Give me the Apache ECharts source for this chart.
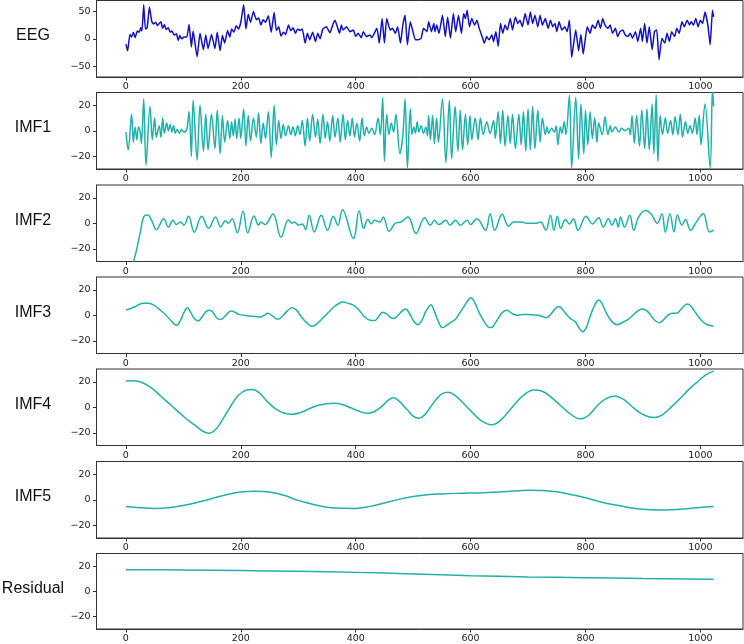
<!DOCTYPE html>
<html>
<head>
<meta charset="utf-8">
<script src="https://cdn.jsdelivr.net/npm/echarts@6/dist/echarts.min.js"></script>
<style>html,body{margin:0;padding:0;background:#fff}#c{width:744px;height:644px}</style>
</head>
<body>
<div id="c"></div>
<script>
// ---------- data ----------
const panelNames = ['EEG', 'IMF1', 'IMF2', 'IMF3', 'IMF4', 'IMF5', 'Residual'];
const xTicks = [0, 200, 400, 600, 800, 1000];
const eegTicks = [-50, 0, 50];
const imfTicks = [-20, 0, 20];

const eeg = [[0,-10],[3,-22],[7,8],[10,3],[13,12],[16,2],[20,14],[23,12],[26,20],[28,14],[31,62],[34,18],[37,20],[41,58],[45,32],[48,27],[52,30],[55,24],[58,28],[61,31],[64,19],[67,26],[70,17],[74,20],[77,12],[80,14],[84,7],[88,9],[91,-3],[94,6],[97,0],[101,3],[106,3],[110,26],[114,-15],[117,14],[124,-33],[129,10],[135,-20],[139,7],[143,-18],[149,8],[155,-18],[159,12],[164,-22],[168,6],[172,-8],[177,15],[181,3],[184,18],[188,12],[192,24],[196,18],[200,30],[205,62],[209,18],[213,45],[217,30],[222,50],[227,35],[231,38],[235,25],[239,35],[243,30],[248,42],[253,12],[258,48],[262,15],[266,22],[270,5],[274,12],[278,8],[283,25],[287,15],[291,20],[295,10],[299,18],[303,15],[307,18],[312,-8],[316,10],[320,-2],[325,12],[330,-5],[334,10],[338,0],[343,18],[349,22],[355,11],[361,28],[364,34],[368,22],[372,10],[375,25],[378,16],[384,22],[390,13],[396,16],[400,4],[404,10],[410,2],[413,13],[419,4],[425,7],[428,2],[437,19],[441,-8],[446,37],[450,-8],[454,37],[460,16],[464,19],[469,10],[473,22],[478,-8],[482,25],[486,43],[490,-11],[495,31],[499,16],[504,-2],[509,-2],[514,1],[518,19],[524,13],[527,31],[532,13],[536,28],[538,13],[541,25],[545,10],[551,43],[556,4],[560,40],[565,1],[570,46],[574,13],[579,43],[584,10],[588,46],[591,37],[594,52],[598,22],[602,37],[607,25],[611,34],[615,19],[620,4],[624,-8],[628,4],[632,-2],[637,7],[640,-5],[644,13],[648,-14],[652,28],[656,10],[660,25],[664,16],[669,37],[673,16],[678,40],[682,28],[686,34],[690,22],[695,46],[700,25],[704,49],[708,28],[712,43],[717,22],[721,43],[725,25],[730,37],[735,19],[739,34],[743,22],[747,28],[750,13],[754,31],[759,16],[764,22],[768,13],[772,34],[776,-34],[783,16],[788,-22],[792,8],[796,-28],[803,22],[808,10],[812,25],[817,19],[822,34],[826,19],[830,37],[834,25],[839,19],[843,25],[847,10],[852,19],[856,4],[860,13],[865,16],[869,7],[874,4],[878,10],[882,1],[887,13],[891,-5],[896,19],[899,-5],[903,28],[907,-8],[911,22],[916,-20],[920,13],[924,16],[928,-38],[933,1],[938,-8],[942,10],[946,-5],[950,13],[955,4],[959,19],[963,10],[968,31],[972,22],[977,34],[981,25],[984,31],[988,25],[992,37],[996,22],[1000,34],[1004,28],[1008,49],[1013,25],[1017,-11],[1021,52],[1023,40]];

const imf1 = [[0,-1],[4,-15],[10,13],[13,-9],[16,3],[19,-7],[22,3],[25,-1],[27,-10],[31,25],[35,-27],[42,19],[46,-7],[50,10],[53,-5],[58,4],[61,-5],[64,10],[67,-2],[71,6],[74,0],[77,5],[80,-1],[83,4],[86,-2],[89,1],[93,-2],[97,1],[101,-1],[106,1],[110,15],[114,-20],[117,24],[124,-23],[129,20],[135,-16],[139,13],[143,-15],[149,13],[155,-14],[159,16],[164,-18],[168,12],[172,-9],[177,8],[181,-6],[184,7],[187,-4],[190,9],[193,-6],[197,10],[200,-6],[205,17],[209,-12],[213,12],[217,-8],[222,10],[227,-5],[231,14],[235,-10],[239,6],[243,-6],[248,15],[253,-21],[258,20],[262,-11],[266,8],[270,-6],[274,5],[278,-4],[283,4],[287,-3],[291,3],[295,-4],[299,4],[303,-3],[307,8],[312,-12],[316,10],[320,-8],[325,13],[330,-5],[334,9],[338,-10],[343,13],[347,-6],[351,7],[355,-8],[360,12],[364,-5],[369,10],[373,-9],[378,13],[382,-7],[386,8],[390,-4],[394,10],[398,-5],[402,6],[407,-8],[411,10],[415,-4],[419,3],[423,-2],[428,2],[433,-3],[439,10],[443,-3],[447,26],[450,-24],[454,13],[458,-3],[462,6],[466,-1],[470,13],[477,-18],[482,-4],[486,25],[490,-29],[495,17],[498,-3],[501,3],[504,-2],[507,7],[510,-1],[514,4],[518,-2],[522,3],[525,-4],[527,12],[530,-7],[534,12],[537,-10],[541,10],[544,-9],[551,25],[557,-25],[563,24],[567,-22],[573,19],[578,-16],[582,16],[586,-15],[591,13],[595,-11],[599,12],[602,-7],[608,10],[613,-7],[617,10],[622,-3],[628,7],[634,-2],[640,8],[643,-6],[648,15],[652,-10],[656,16],[660,-12],[665,12],[669,-10],[673,13],[678,-14],[684,13],[688,-11],[692,15],[696,-16],[700,17],[704,-15],[708,19],[712,-14],[717,16],[721,-9],[725,10],[730,-3],[733,3],[736,-2],[741,2],[746,-1],[749,4],[752,-11],[756,3],[759,-2],[763,7],[766,-3],[772,28],[776,-29],[783,26],[788,-22],[792,21],[797,-18],[800,16],[804,-11],[808,15],[812,-6],[816,10],[820,-9],[823,6],[829,-3],[834,11],[839,-3],[843,4],[846,-1],[852,3],[858,-1],[863,2],[869,0],[875,2],[878,-3],[881,12],[885,-10],[889,12],[894,-12],[898,16],[903,-14],[907,17],[911,-15],[916,21],[919,-18],[923,28],[926,-24],[930,12],[934,-3],[939,10],[943,-2],[948,8],[952,-3],[956,11],[961,-3],[965,13],[969,-5],[974,7],[978,-2],[982,4],[986,-2],[991,10],[994,-3],[998,12],[1001,-11],[1008,21],[1017,-29],[1021,33],[1023,19]];

const imf2 = [[0,-46],[8,-36],[14,-29],[20,-18],[26,-5],[31,5],[38,6.5],[45,2],[53,-5],[66,3.6],[74,-3],[82,2.3],[88,-1],[95,1],[101,-1.5],[109,5.5],[119,-7],[132,5.5],[144,-4],[156,5],[165,-3],[173,2],[179,0],[185,3.6],[194,-7.5],[204,9.6],[212,-7.5],[223,5.7],[231,-1.5],[235,1],[242,-1],[256,7.3],[270,-11],[283,2.8],[289,0],[293,1],[301,-1.5],[307,-0.5],[313,-5],[319,6.2],[328,-6.8],[340,6.2],[351,-5.5],[361,5.5],[369,-1.5],[377,10.6],[396,-12],[406,9.6],[414,-4],[421,2.9],[427,-0.3],[433,2.3],[442,1],[448,5],[458,-6.2],[470,0.3],[479,1],[491,5],[505,-8],[520,4.4],[530,-1.5],[537,2.3],[545,-1],[557,2.3],[564,-1.5],[574,2.3],[582,-1.5],[594,2.3],[600,-1],[611,3.6],[626,-5.5],[634,7.5],[642,-5.5],[655,7],[666,-2.3],[675,1],[689,1],[697,0],[714,0],[722,1],[731,-5.5],[739,6.2],[745,-5.5],[751,5.5],[757,-4],[765,3],[772,-0.5],[779,3.6],[787,-5.5],[801,5.5],[812,-0.5],[823,4.4],[831,-3],[840,3.6],[846,-1.5],[852,3.6],[857,-3],[861,5],[868,-3],[877,6.2],[884,-5.5],[892,4.4],[904,10],[914,7.5],[925,0],[933,7.5],[939,-7],[947,7.5],[954,-6.8],[960,6.5],[968,-1.5],[974,3],[983,-5.5],[993,1],[1005,7.5],[1016,-6.8],[1023,-5.5]];

const imf3 = [[0,4],[15,6.5],[30,9.5],[40,9.5],[50,7.5],[60,4],[70,0],[80,-5],[88,-7.9],[95,-4],[101,2],[107,5.8],[113,2],[120,-3],[126,-4.5],[133,-1],[140,3],[146,4],[152,2],[158,-2],[165,-3.4],[172,-1],[178,2],[184,3.4],[191,2],[198,0.5],[214,-0.5],[225,-1],[235,-1.3],[241,0],[247,1.6],[255,-0.5],[264,-3.2],[272,-1],[280,3],[289,5.8],[297,4],[305,-1],[315,-6],[324,-8.7],[333,-6.5],[342,-2.6],[352,2],[362,6.5],[370,9],[377,10.3],[386,9.5],[396,7.9],[405,4.5],[415,-1],[425,-4],[433,-4.2],[440,-1],[447,2.4],[454,1],[460,-1.5],[466,-2.6],[474,0],[480,3],[487,5],[494,1],[501,-4.5],[508,-7.4],[515,-4],[522,3],[527,6.5],[531,8.2],[537,3],[544,-5],[551,-9.7],[558,-8],[566,-5.5],[574,-3],[582,2.5],[590,8],[596,12],[600,13.7],[606,11],[615,2],[625,-6],[632,-9.5],[636,-9.7],[643,-6],[650,-1],[656,2.5],[663,4],[672,1.5],[681,0],[690,0.5],[698,0.5],[708,0.3],[718,0],[725,-1],[732,-1.8],[740,1],[747,5],[754,6.8],[761,4],[768,0],[775,-3],[782,-5],[789,-10],[795,-13],[801,-10],[808,-1],[815,7],[820,11],[823,12],[829,9],[837,1],[846,-5],[855,-7.4],[865,-5.5],[875,-3],[885,1],[893,4],[900,5],[908,3],[915,-1],[922,-4.5],[929,-5.8],[937,-3],[945,0.5],[952,1.5],[958,1.5],[965,4],[972,7.5],[977,8.9],[983,7.5],[990,3],[998,-2],[1005,-5.5],[1012,-7.4],[1023,-8.4]];

const imf4 = [[0,20.5],[15,20.8],[30,19],[45,15],[60,9],[75,3],[90,-3],[105,-9],[120,-14],[135,-19],[145,-20.3],[155,-18],[165,-12],[180,-1],[195,9],[210,13.5],[220,14],[232,11.5],[245,5],[260,-1],[275,-4.5],[290,-5.5],[305,-4],[320,-1],[335,1.5],[350,2.8],[363,3.1],[378,2],[392,-0.5],[405,-3],[420,-4.7],[432,-3.5],[445,0.5],[458,6],[466,7.5],[475,5],[490,-2],[500,-7],[510,-8.6],[520,-6],[530,0],[540,6],[550,10.5],[561,11.7],[575,8.5],[590,2],[605,-5],[620,-11],[636,-13.8],[650,-11],[665,-4],[680,4],[695,10.5],[710,13.5],[725,12.5],[740,8],[755,2],[770,-4],[785,-8.5],[793,-9.1],[805,-6.5],[820,1],[835,6.5],[851,8.8],[865,6.5],[880,1],[895,-4.5],[910,-7.5],[921,-8],[935,-5.5],[950,0.5],[965,7],[980,14],[995,20],[1010,25.5],[1023,28.3]];

const imf5 = [[0,-5.2],[25,-6.3],[50,-6.8],[75,-6.2],[100,-4.5],[125,-2],[150,1],[175,4],[200,6],[225,6.6],[250,6],[275,3.5],[300,-0.5],[325,-3.5],[350,-5.8],[375,-6.7],[400,-6.8],[425,-5.2],[450,-2.5],[475,0.3],[500,2.5],[525,4],[550,4.6],[575,5],[600,5.2],[625,5.5],[650,6],[675,6.8],[700,7.4],[725,7.3],[750,6.2],[775,4],[800,1.5],[825,-1.5],[850,-4],[875,-6],[900,-7.5],[925,-8],[950,-7.8],[975,-7],[1000,-6],[1023,-5.2]];

const residual = [[0,17.1],[100,16.9],[200,16.4],[300,15.8],[400,15],[500,13.8],[600,12.4],[700,11.4],[800,10.8],[900,10.1],[1023,9.6]];

const seriesData = [eeg, imf1, imf2, imf3, imf4, imf5, residual];

// ---------- layout / style ----------
const tops = [0.5, 92.5, 185, 277, 369, 461.5, 553.5];
const panelH = 76.5;
const gridLeft = 96.5, gridW = 646.5;
const eegColor = '#1212c0';
const imfColor = '#20B2AA';
const smoothVals = [0.15, 0.35, 0.4, 0.4, 0.4, 0.4, 0.4];
const tickFont = {fontFamily: 'DejaVu Sans', fontSize: 9.5, color: '#1a1a1a'};
const fmt = v => String(v).replace('-', '\u2212');

const grids = [], xAxes = [], yAxes = [], series = [], graphics = [];
panelNames.forEach((name, i) => {
  grids.push({left: gridLeft, top: tops[i], width: gridW, height: panelH, show: true,
    borderColor: '#333', borderWidth: 1, backgroundColor: 'rgba(0,0,0,0)'});
  xAxes.push({type: 'value', gridIndex: i, min: -51.15, max: 1074.15, position: 'bottom',
    axisLine: {show: true, onZero: false, lineStyle: {color: '#333', width: 1}}, splitLine: {show: false},
    axisTick: {show: true, length: 3.5, customValues: xTicks, lineStyle: {color: '#333', width: 1}},
    axisLabel: Object.assign({margin: 5, customValues: xTicks, formatter: fmt}, tickFont)});
  const yt = i === 0 ? eegTicks : imfTicks;
  const lim = i === 0 ? 70 : 30;
  yAxes.push({type: 'value', gridIndex: i, min: -lim, max: lim, position: 'left',
    axisLine: {show: true, onZero: false, lineStyle: {color: '#333', width: 1}}, splitLine: {show: false},
    axisTick: {show: true, length: 3.5, customValues: yt, lineStyle: {color: '#333', width: 1}},
    axisLabel: Object.assign({margin: 6, customValues: yt, formatter: fmt}, tickFont)});
  series.push({type: 'line', xAxisIndex: i, yAxisIndex: i, data: seriesData[i],
    showSymbol: false, smooth: smoothVals[i], clip: true,
    lineStyle: {color: i === 0 ? eegColor : imfColor, width: 1.5}});
  graphics.push({type: 'text', x: 33, y: tops[i] + panelH / 2 - 3,
    style: {text: name, font: '16px "Liberation Sans", Arial, sans-serif', fill: '#111',
      textAlign: 'center', textVerticalAlign: 'middle'}});
});

const chart = echarts.init(document.getElementById('c'), null, {renderer: 'canvas'});
chart.setOption({
  animation: false,
  backgroundColor: '#fff',
  grid: grids, xAxis: xAxes, yAxis: yAxes, series: series,
  graphic: graphics
});
</script>
</body>
</html>
